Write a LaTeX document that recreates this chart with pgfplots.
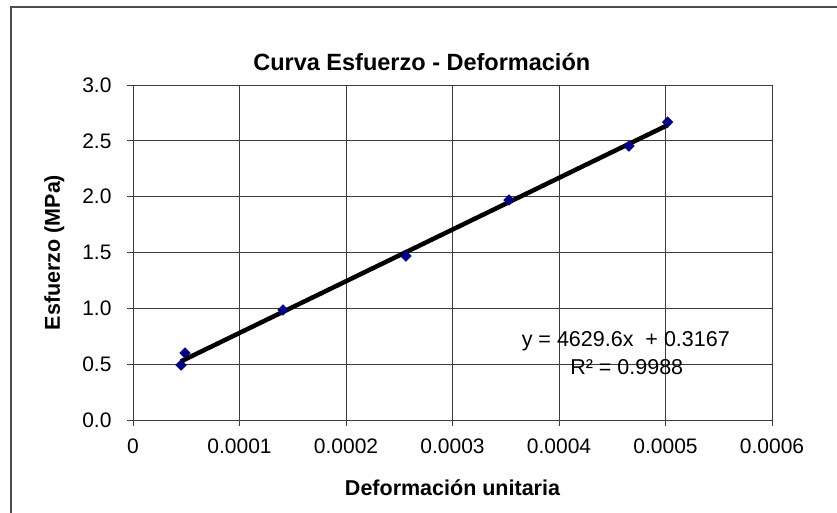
\documentclass[border=0pt]{standalone}
\usepackage{pgfplots}
\pgfplotsset{compat=1.18}
\usepackage{fontspec}
\setmainfont{Liberation Sans}
\definecolor{gridc}{RGB}{60,60,60}
\definecolor{navyc}{RGB}{0,0,128}
\begin{document}
\begin{tikzpicture}
\useasboundingbox (0,0) rectangle (837bp,-513bp);
\draw[color=gray!60!black, line width=1.2bp] (11bp,-520bp) -- (11bp,-7bp) -- (845bp,-7bp);
\begin{axis}[
  at={(133bp,-420bp)}, anchor=south west,
  scale only axis, width=639bp, height=335bp,
  xmin=0, xmax=0.0006, ymin=0, ymax=3,
  xtick={0,0.0001,0.0002,0.0003,0.0004,0.0005,0.0006},
  ytick={0,0.5,1,1.5,2,2.5,3},
  xticklabel={\pgfmathprintnumber[assume math mode=true,fixed,precision=4]{\tick}},
  yticklabel={\pgfmathprintnumber[assume math mode=true,fixed,fixed zerofill,precision=1]{\tick}},
  scaled x ticks=false, scaled y ticks=false,
  grid=major,
  grid style={color=gridc, line width=0.9bp},
  axis line style={color=gridc, line width=0.9bp},
  tick style={color=gridc, line width=0.9bp},
  tick align=outside, major tick length=6bp,
  xtick pos=bottom, ytick pos=left,
  tick label style={font=\fontsize{21bp}{25bp}\selectfont},
  xticklabel style={yshift=-9bp},
  yticklabel style={xshift=-12bp},
  title={\fontsize{23.5bp}{28bp}\selectfont\bfseries Curva Esfuerzo - Deformación},
  title style={at={(0.452,1)}, anchor=south, yshift=5bp},
  xlabel={\fontsize{21.5bp}{25bp}\selectfont\bfseries Deformación unitaria},
  xlabel style={yshift=-19bp},
  ylabel={\fontsize{21.5bp}{25bp}\selectfont\bfseries Esfuerzo (MPa)},
  ylabel style={yshift=11bp},
  clip=false,
]
\addplot[black, line width=4.5bp] coordinates {(0.0000451,0.5255) (0.000502,2.6408)};
\addplot[only marks, mark=square*, mark size=3.8bp, color=navyc, mark options={rotate=45, fill=navyc, draw=navyc}] coordinates {
(0.0000451,0.492)
(0.0000488,0.600)
(0.0001408,0.985)
(0.0002563,1.468)
(0.000353,1.970)
(0.0004657,2.453)
(0.000502,2.668)
};
\node[font=\fontsize{21.5bp}{25bp}\selectfont] at (axis cs:0.0004627,0.703) {y = 4629.6x \ + 0.3167};
\node[font=\fontsize{21.5bp}{25bp}\selectfont] at (axis cs:0.0004636,0.478) {R² = 0.9988};
\end{axis}
\end{tikzpicture}
\end{document}
